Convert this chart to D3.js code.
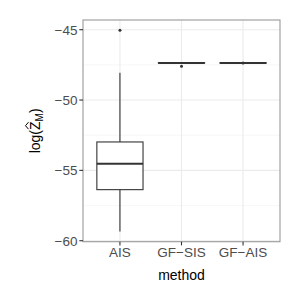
<!DOCTYPE html>
<html><head><meta charset="utf-8">
<script src="https://cdn.jsdelivr.net/npm/d3@7"></script>
<style>body{margin:0;background:#fff}svg{display:block}text{font-family:"Liberation Sans",Arial,sans-serif}</style>
</head><body>
<script>
const categories = ["AIS", "GF\u2212SIS", "GF\u2212AIS"];
const lowerWhisker = [-59.35, -47.37, -47.37];
const q1 = [-56.37, -47.38, -47.38];
const median = [-54.53, -47.36, -47.36];
const q3 = [-52.98, -47.34, -47.34];
const upperWhisker = [-48.06, -47.35, -47.35];
const outliers = [[-45.03], [-47.59], [-47.37]];
const yTicks = [-60, -55, -50, -45];
const yMinor = [-57.5, -52.5, -47.5];

const W = 300, H = 300;
const m = {l: 83, r: 20, t: 20, b: 58.3};
const svg = d3.select("body").append("svg").attr("width", W).attr("height", H);
const pw = W - m.l - m.r, ph = H - m.t - m.b;
const g = svg.append("g").attr("transform", `translate(${m.l},${m.t})`);

const y = d3.scaleLinear().domain([-60.07, -44.31]).range([ph, 0]);
const xc = d3.scaleLinear().domain([0.4, 3.6]).range([0, pw]);
const x = i => xc(i + 1);
const bw = 0.75 * (xc(1) - xc(0));

// gridlines
g.selectAll(".minor").data(yMinor).join("line")
  .attr("x1", 0).attr("x2", pw).attr("y1", d => y(d)).attr("y2", d => y(d))
  .attr("stroke", "#f2f2f2").attr("stroke-width", 0.6);
g.selectAll(".major").data(yTicks).join("line")
  .attr("x1", 0).attr("x2", pw).attr("y1", d => y(d)).attr("y2", d => y(d))
  .attr("stroke", "#ebebeb").attr("stroke-width", 1.1);
g.selectAll(".vmaj").data(categories).join("line")
  .attr("x1", (d, i) => x(i)).attr("x2", (d, i) => x(i)).attr("y1", 0).attr("y2", ph)
  .attr("stroke", "#ebebeb").attr("stroke-width", 1.1);

// boxes
const box = g.selectAll(".box").data(categories).join("g");
box.append("line")
  .attr("x1", (d, i) => x(i)).attr("x2", (d, i) => x(i))
  .attr("y1", (d, i) => y(upperWhisker[i])).attr("y2", (d, i) => y(q3[i]))
  .attr("stroke", "#333").attr("stroke-width", 1.1);
box.append("line")
  .attr("x1", (d, i) => x(i)).attr("x2", (d, i) => x(i))
  .attr("y1", (d, i) => y(q1[i])).attr("y2", (d, i) => y(lowerWhisker[i]))
  .attr("stroke", "#333").attr("stroke-width", 1.1);
box.append("rect")
  .attr("x", (d, i) => x(i) - bw / 2).attr("width", bw)
  .attr("y", (d, i) => y(q3[i])).attr("height", (d, i) => y(q1[i]) - y(q3[i]))
  .attr("fill", "#fff").attr("stroke", "#333").attr("stroke-width", 1.1);
box.append("line")
  .attr("x1", (d, i) => x(i) - bw / 2).attr("x2", (d, i) => x(i) + bw / 2)
  .attr("y1", (d, i) => y(median[i])).attr("y2", (d, i) => y(median[i]))
  .attr("stroke", "#333").attr("stroke-width", 2);
box.each(function(d, i) {
  d3.select(this).selectAll("circle").data(outliers[i]).join("circle")
    .attr("cx", x(i)).attr("cy", v => y(v)).attr("r", 1.5).attr("fill", "#333");
});

// panel border
g.append("rect").attr("width", pw).attr("height", ph)
  .attr("fill", "none").attr("stroke", "#999").attr("stroke-width", 1.1);

// y axis
const ya = g.append("g");
ya.selectAll("line").data(yTicks).join("line")
  .attr("x1", -3.7).attr("x2", 0).attr("y1", d => y(d)).attr("y2", d => y(d))
  .attr("stroke", "#333").attr("stroke-width", 1.1);
ya.selectAll("text").data(yTicks).join("text")
  .attr("x", -5.5).attr("y", d => y(d)).attr("dy", "0.36em")
  .attr("text-anchor", "end").attr("fill", "#4d4d4d").attr("font-size", 13.5)
  .text(d => d3.format("")(d).replace("-", "\u2212"));

// x axis
const xa = g.append("g");
xa.selectAll("line").data(categories).join("line")
  .attr("x1", (d, i) => x(i)).attr("x2", (d, i) => x(i)).attr("y1", ph).attr("y2", ph + 3.7)
  .attr("stroke", "#333").attr("stroke-width", 1.1);
xa.selectAll("text").data(categories).join("text")
  .attr("x", (d, i) => x(i)).attr("y", ph + 15)
  .attr("text-anchor", "middle").attr("fill", "#4d4d4d").attr("font-size", 13.5)
  .text(d => d);

// titles
svg.append("text").attr("x", m.l + pw / 2).attr("y", 279.5)
  .attr("text-anchor", "middle").attr("font-size", 14).attr("fill", "#000").text("method");
const ytg = svg.append("g").attr("transform", `translate(40,${m.t + ph / 2}) rotate(-90)`);
const yt = ytg.append("text")
  .attr("text-anchor", "middle").attr("font-size", 14).attr("fill", "#000");
yt.append("tspan").text("log(");
yt.append("tspan").text("Z");
yt.append("tspan").attr("font-size", 10).attr("dy", 3).text("M");
yt.append("tspan").attr("dy", -3).text(")");
const node = yt.node();
const zs = node.getStartPositionOfChar(4), ze = node.getEndPositionOfChar(4);
const zc = (zs.x + ze.x) / 2;
ytg.append("path")
  .attr("d", `M${zc - 3.5},${-11.5} L${zc},${-14.5} L${zc + 3.5},${-11.5}`)
  .attr("fill", "none").attr("stroke", "#000").attr("stroke-width", 1);
</script>
</body></html>
